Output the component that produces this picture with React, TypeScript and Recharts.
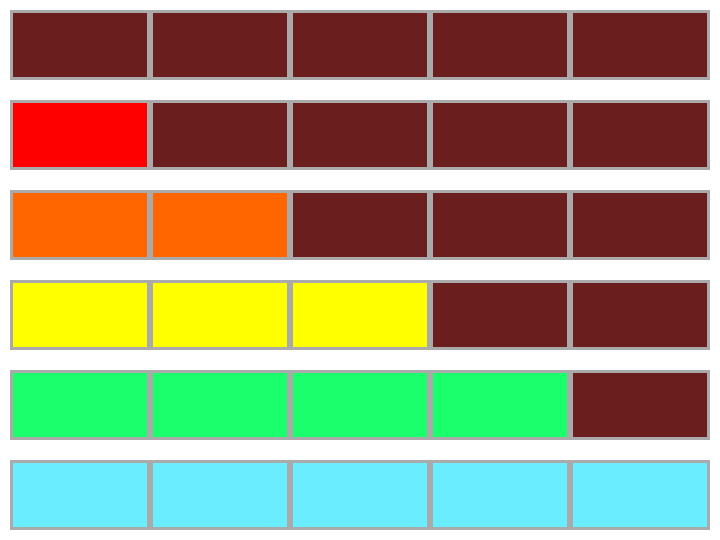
import React from "react";
import { BarChart, Bar, XAxis, YAxis } from "recharts";

const rowLabels = ["Row 1", "Row 2", "Row 3", "Row 4", "Row 5", "Row 6"];
const segmentKeys = ["s1", "s2", "s3", "s4", "s5"];
const segmentValues = [1, 1, 1, 1, 1];
const litCounts = [0, 1, 2, 3, 4, 5];
const litColors = ["#6B1E1E", "#FF0000", "#FF6600", "#FFFF00", "#1AFF6B", "#6AEEFF"];
const offColor = "#6B1E1E";
const borderColor = "#AAAAAA";

const data = rowLabels.map((label, r) => {
  const row: Record<string, any> = { label };
  segmentKeys.forEach((k, i) => {
    row[k] = segmentValues[i];
    row["fill_" + k] = i < litCounts[r] ? litColors[r] : offColor;
  });
  return row;
});

const makeShape = (key: string) => (props: any) => {
  const { x, y, width, height, payload } = props;
  if (width <= 3 || height <= 3) return <g />;
  return (
    <rect
      x={x + 1.5}
      y={y + 1.5}
      width={width - 3}
      height={height - 3}
      fill={payload["fill_" + key]}
      stroke={borderColor}
      strokeWidth={3}
    />
  );
};

export default function App() {
  return (
    <div style={{ position: "absolute", left: 0, top: 0, width: 720, height: 540 }}>
      <BarChart
        width={720}
        height={540}
        data={data}
        layout="vertical"
        margin={{ top: 0, right: 10, bottom: 0, left: 10 }}
        barCategoryGap={10}
      >
        <XAxis type="number" domain={[0, 5]} hide />
        <YAxis type="category" dataKey="label" hide />
        {segmentKeys.map((k) => (
          <Bar key={k} dataKey={k} stackId="a" isAnimationActive={false} shape={makeShape(k)} />
        ))}
      </BarChart>
    </div>
  );
}
